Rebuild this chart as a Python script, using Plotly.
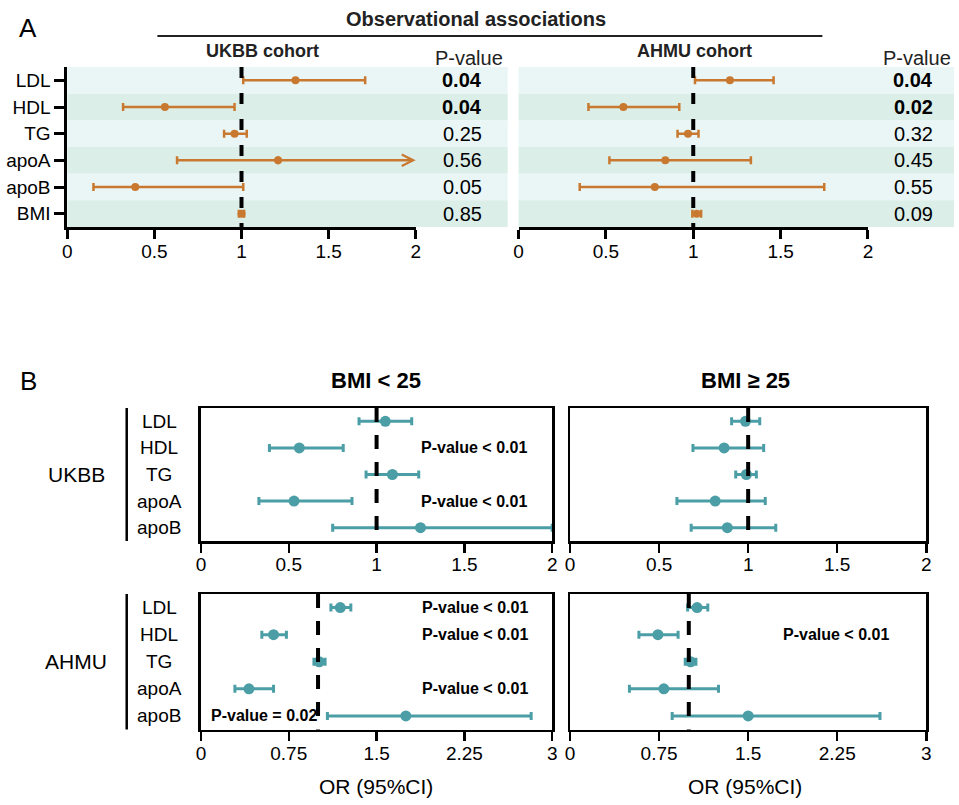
import plotly.graph_objects as go

W, H = 959, 805
FONT = "Arial, 'Liberation Sans', Helvetica, sans-serif"
ORANGE = "#c8792f"
TEAL = "#4b9ea6"
BAND = ["#eaf5f6", "#dceee8"]

# ---------------- Panel A data ----------------
traits_a = ["LDL", "HDL", "TG", "apoA", "apoB", "BMI"]
ukbb_or = [1.31, 0.56, 0.96, 1.21, 0.39, 1.00]
ukbb_lo = [1.01, 0.32, 0.90, 0.63, 0.15, 0.985]
ukbb_hi = [1.71, 0.96, 1.03, 2.00, 1.01, 1.015]
ukbb_hi_arrow = [False, False, False, True, False, False]
ukbb_p = ["0.04", "0.04", "0.25", "0.56", "0.05", "0.85"]
ukbb_p_bold = [True, True, False, False, False, False]

ahmu_or = [1.21, 0.60, 0.97, 0.84, 0.78, 1.02]
ahmu_lo = [1.01, 0.40, 0.91, 0.52, 0.35, 0.995]
ahmu_hi = [1.46, 0.92, 1.03, 1.33, 1.75, 1.045]
ahmu_p = ["0.04", "0.02", "0.32", "0.45", "0.55", "0.09"]
ahmu_p_bold = [True, True, False, False, False, False]

ticks_a = [0, 0.5, 1, 1.5, 2]
ticktext_a = ["0", "0.5", "1", "1.5", "2"]

# ---------------- Panel B data ----------------
traits_b = ["LDL", "HDL", "TG", "apoA", "apoB"]
ukbb_lt25_or = [1.05, 0.56, 1.09, 0.53, 1.25]
ukbb_lt25_lo = [0.90, 0.39, 0.94, 0.33, 0.75]
ukbb_lt25_hi = [1.20, 0.81, 1.24, 0.86, 2.00]
ukbb_ge25_or = [0.985, 0.865, 0.99, 0.815, 0.883]
ukbb_ge25_lo = [0.907, 0.69, 0.93, 0.60, 0.68]
ukbb_ge25_hi = [1.065, 1.087, 1.046, 1.096, 1.155]
ahmu_lt25_or = [1.19, 0.62, 1.01, 0.41, 1.75]
ahmu_lt25_lo = [1.11, 0.52, 0.965, 0.29, 1.08]
ahmu_lt25_hi = [1.28, 0.73, 1.06, 0.62, 2.82]
ahmu_ge25_or = [1.07, 0.74, 1.015, 0.79, 1.50]
ahmu_ge25_lo = [0.99, 0.58, 0.97, 0.50, 0.86]
ahmu_ge25_hi = [1.16, 0.91, 1.06, 1.25, 2.61]

ticks_b_ukbb = [0, 0.5, 1, 1.5, 2]
ticktext_b_ukbb = ["0", "0.5", "1", "1.5", "2"]
ticks_b_ahmu = [0, 0.75, 1.5, 2.25, 3]
ticktext_b_ahmu = ["0", "0.75", "1.5", "2.25", "3"]

# p-value notes: (axis suffix, row, text, x start in data units)
p_notes = [
    ("3", 1, "P-value < 0.01", 1.24),
    ("3", 3, "P-value < 0.01", 1.24),
    ("5", 0, "P-value < 0.01", 1.87),
    ("5", 1, "P-value < 0.01", 1.87),
    ("5", 3, "P-value < 0.01", 1.87),
    ("5", 4, "P-value = 0.02", 0.07),
    ("6", 1, "P-value < 0.01", 1.78),
]


def px(x):
    return x / W


def py(y):
    return 1 - y / H


fig = go.Figure()


def forest(xa, ya, orv, lo, hi, color, msize, capw, thick, arrow=None):
    plus = []
    for i, (o, h) in enumerate(zip(orv, hi)):
        plus.append(0 if (arrow and arrow[i]) else h - o)
    fig.add_trace(go.Scatter(
        x=orv, y=list(range(len(orv))), xaxis=xa, yaxis=ya,
        mode="markers", marker=dict(color=color, size=msize),
        error_x=dict(type="data", symmetric=False, array=plus,
                     arrayminus=[o - l for o, l in zip(orv, lo)],
                     color=color, thickness=thick, width=capw),
        cliponaxis=False, hoverinfo="skip", showlegend=False))


forest("x", "y", ukbb_or, ukbb_lo, ukbb_hi, ORANGE, 8, 4, 2.5, ukbb_hi_arrow)
forest("x2", "y2", ahmu_or, ahmu_lo, ahmu_hi, ORANGE, 8, 4, 2.5)
forest("x3", "y3", ukbb_lt25_or, ukbb_lt25_lo, ukbb_lt25_hi, TEAL, 11, 4, 3)
forest("x4", "y4", ukbb_ge25_or, ukbb_ge25_lo, ukbb_ge25_hi, TEAL, 11, 4, 3)
forest("x5", "y5", ahmu_lt25_or, ahmu_lt25_lo, ahmu_lt25_hi, TEAL, 11, 4, 3)
forest("x6", "y6", ahmu_ge25_or, ahmu_ge25_lo, ahmu_ge25_hi, TEAL, 11, 4, 3)

shapes = []
annotations = []

# Panel A bands
for i in range(len(traits_a)):
    for xd, yr, x1 in (("x domain", "y", (508 - 63) / (415 - 63)),
                       ("x2 domain", "y2", (959 - 519) / (872 - 519))):
        shapes.append(dict(type="rect", xref=xd, yref=yr,
                           x0=0, x1=x1, y0=i - 0.5, y1=i + 0.5,
                           fillcolor=BAND[i % 2], line=dict(width=0), layer="below"))

# Dashed reference lines at OR = 1
for xa, ya, dash in (("x", "y", "11px,15px"), ("x2", "y2", "11px,15px"),
                     ("x3", "y3", "14px,13px"), ("x4", "y4", "14px,13px"),
                     ("x5", "y5", "14px,13px"), ("x6", "y6", "14px,13px")):
    shapes.append(dict(type="line", xref=xa, yref=ya + " domain", x0=1, x1=1, y0=1, y1=0,
                       line=dict(color="black", width=4, dash=dash)))

# Arrow for truncated CI
for i, a in enumerate(ukbb_hi_arrow):
    if a:
        annotations.append(dict(x=ukbb_hi[i], y=i, xref="x", yref="y", ax=ukbb_or[i], ay=i,
                                axref="x", ayref="y", text="", showarrow=True, arrowhead=5,
                                arrowsize=0.9, arrowwidth=2.5, arrowcolor=ORANGE, standoff=0))

# P-value columns
for i in range(len(traits_a)):
    t = ukbb_p[i]
    annotations.append(dict(x=px(462), y=i, xref="paper", yref="y",
                            text=f"<b>{t}</b>" if ukbb_p_bold[i] else t, font=dict(size=20)))
    t = ahmu_p[i]
    annotations.append(dict(x=px(918), y=i, xref="paper", yref="y2",
                            text=f"<b>{t}</b>" if ahmu_p_bold[i] else t, font=dict(size=20)))

# Panel A headers
annotations += [
    dict(x=px(23), y=py(28), text="A", font=dict(size=26)),
    dict(x=px(476), y=py(19), text="<b>Observational associations</b>", font=dict(size=20, color="#222")),
    dict(x=px(260), y=py(51), text="<b>UKBB cohort</b>", font=dict(size=18, color="#222")),
    dict(x=px(697), y=py(51), text="<b>AHMU cohort</b>", font=dict(size=18, color="#222")),
    dict(x=px(469), y=py(58), text="P-value", font=dict(size=20, color="#222")),
    dict(x=px(922), y=py(58), text="P-value", font=dict(size=20, color="#222")),
]
shapes.append(dict(type="line", xref="paper", yref="paper", x0=px(154), x1=px(826),
                   y0=py(36), y1=py(36), line=dict(color="#222", width=2)))

# Panel B labels
annotations += [
    dict(x=px(24), y=py(381), text="B", font=dict(size=26)),
    dict(x=px(375), y=py(380), text="<b>BMI < 25</b>", font=dict(size=22)),
    dict(x=px(748), y=py(380), text="<b>BMI ≥ 25</b>", font=dict(size=22)),
    dict(x=px(375), y=py(786), text="OR (95%CI)", font=dict(size=21)),
    dict(x=px(748), y=py(786), text="OR (95%CI)", font=dict(size=21)),
]
for ya, grp in (("y3", "UKBB"), ("y5", "AHMU")):
    for i, t in enumerate(traits_b):
        annotations.append(dict(x=px(156), y=i, xref="paper", yref=ya, text=t,
                                font=dict(size=19)))
    annotations.append(dict(x=px(72), y=2, xref="paper", yref=ya, text=grp,
                            font=dict(size=21)))
    shapes.append(dict(type="line", xref="paper", yref=ya + " domain", x0=px(123), x1=px(123),
                       y0=0, y1=1, line=dict(color="black", width=2.5)))

for ax, row, text, xs in p_notes:
    annotations.append(dict(x=xs, y=row, xref="x" + ax, yref="y" + ax, text=f"<b>{text}</b>",
                            xanchor="left", font=dict(size=16)))

for a in annotations:
    a.setdefault("xref", "paper")
    a.setdefault("yref", "paper")
    a.setdefault("showarrow", False)
    a.setdefault("xanchor", "center")
    a.setdefault("yanchor", "middle")

common_x = dict(showline=True, linecolor="black", ticks="outside", tickcolor="black",
                showgrid=False, zeroline=False, fixedrange=True, ticklabelstandoff=-4)
common_y = dict(showgrid=False, zeroline=False, fixedrange=True)

layout = dict(
    width=W, height=H, autosize=False,
    margin=dict(l=0, r=0, t=0, b=0),
    paper_bgcolor="white", plot_bgcolor="white",
    font=dict(family=FONT, color="black"),
    showlegend=False, hovermode=False,
    shapes=shapes, annotations=annotations,
    xaxis=dict(domain=[px(63), px(415)], range=[0, 2], anchor="y", tickvals=ticks_a,
               ticktext=ticktext_a, linewidth=3, ticklen=9, tickwidth=3,
               tickfont=dict(size=19), **common_x),
    yaxis=dict(domain=[py(227), py(67)], range=[5.5, -0.5], anchor="x", tickvals=list(range(6)),
               ticktext=traits_a, showline=True, linewidth=3, linecolor="black", ticks="outside",
               ticklen=10, tickwidth=3, tickcolor="black", tickfont=dict(size=19), **common_y),
    xaxis2=dict(domain=[px(519), px(872)], range=[0, 2], anchor="y2", tickvals=ticks_a,
                ticktext=ticktext_a, linewidth=3, ticklen=9, tickwidth=3,
                tickfont=dict(size=19), **common_x),
    yaxis2=dict(domain=[py(227), py(67)], range=[5.5, -0.5], anchor="x2", showticklabels=False,
                showline=False, ticks="", **common_y),
)

box_y = dict(showline=True, mirror=True, linecolor="black", linewidth=2.5,
             showticklabels=False, ticks="", **common_y)
for n, dom_x, dom_y, rng, tv, tt in (
        (3, (198, 553), (541, 408), 2, ticks_b_ukbb, ticktext_b_ukbb),
        (4, (571, 931), (541, 408), 2, ticks_b_ukbb, ticktext_b_ukbb),
        (5, (198, 553), (729.5, 594), 3, ticks_b_ahmu, ticktext_b_ahmu),
        (6, (571, 931), (729.5, 594), 3, ticks_b_ahmu, ticktext_b_ahmu)):
    layout[f"xaxis{n}"] = dict(domain=[px(dom_x[0]), px(dom_x[1])], range=[0, rng], anchor=f"y{n}",
                               tickvals=tv, ticktext=tt, mirror=True, linewidth=2.5, ticklen=9,
                               tickwidth=2.5, tickfont=dict(size=19), **common_x)
    layout[f"yaxis{n}"] = dict(domain=[py(dom_y[0]), py(dom_y[1])], range=[4.5, -0.5],
                               anchor=f"x{n}", **box_y)

fig.update_layout(**layout)
fig.write_html(
    "out.html",
    config={"displayModeBar": False, "staticPlot": True},
    post_script="document.body.style.margin='0';document.body.style.overflow='hidden';",
)
